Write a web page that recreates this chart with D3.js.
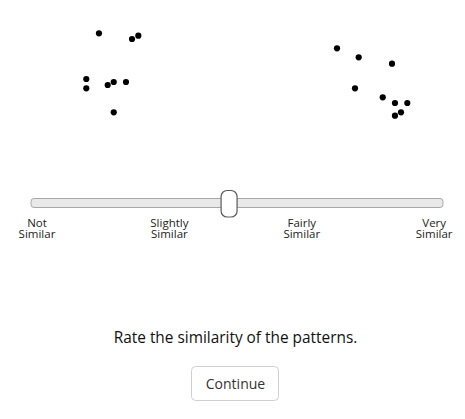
<!DOCTYPE html>
<html>
<head>
<meta charset="utf-8">
<script src="https://cdn.jsdelivr.net/npm/d3@7"></script>
<style>
  html, body { margin: 0; padding: 0; background: #fff; }
  svg { display: block; font-family: "Open Sans", sans-serif; }
</style>
</head>
<body>
<svg id="chart" width="465" height="419"></svg>
<script>
// Pattern A (left) and pattern B (right), in 0-100 panel units
const leftX  = [32.2, 68.9, 75.9, 18.1, 18.1, 41.9, 48.6, 62.2, 48.6];
const leftY  = [13.3, 19.0, 15.7, 59.0, 68.3, 65.0, 62.0, 62.0, 92.3];
const rightX = [18.9, 43.0, 80.0, 38.9, 69.7, 83.3, 97.0, 90.0, 83.3];
const rightY = [18.3, 27.3, 33.7, 58.3, 67.3, 73.0, 73.0, 82.3, 85.7];

const scaleLabels1 = ["Not", "Slightly", "Fairly", "Very"];
const scaleLabels2 = ["Similar", "Similar", "Similar", "Similar"];
const sliderValue = 48;
const prompt = "Rate the similarity of the patterns.";
const buttonText = "Continue";

const svg = d3.select("#chart");

function drawPanel(xs, ys, xRange, yRange) {
  const x = d3.scaleLinear().domain([0, 100]).range(xRange);
  const y = d3.scaleLinear().domain([0, 100]).range(yRange);
  svg.append("g").selectAll("circle")
    .data(xs.map((v, i) => [v, ys[i]]))
    .join("circle")
    .attr("cx", d => x(d[0]))
    .attr("cy", d => y(d[1]))
    .attr("r", 3.1)
    .attr("fill", "#000");
}
drawPanel(leftX, leftY, [70, 160], [20, 120]);
drawPanel(rightX, rightY, [320, 410], [30, 130]);

// Slider
const trackX0 = 31, trackX1 = 443;
const thumbW = 16;
svg.append("rect")
  .attr("x", trackX0).attr("y", 198.5)
  .attr("width", trackX1 - trackX0).attr("height", 9)
  .attr("rx", 3)
  .attr("fill", "#e9e9e9").attr("stroke", "#a8a8a8").attr("stroke-width", 1);

const vScale = d3.scaleLinear().domain([0, 100]).range([trackX0 + thumbW / 2, trackX1 - thumbW / 2]);
svg.append("rect")
  .attr("x", vScale(sliderValue) - thumbW / 2).attr("y", 190.5)
  .attr("width", thumbW).attr("height", 26.5)
  .attr("rx", 6)
  .attr("fill", "#fff").attr("stroke", "#5a5a5a").attr("stroke-width", 1.2);

const lScale = d3.scalePoint().domain(d3.range(scaleLabels1.length)).range([37, 434.2]);
const lg = svg.append("g").attr("font-size", 11.5).attr("fill", "#222").attr("text-anchor", "middle");
lg.selectAll("text.l1").data(scaleLabels1).join("text").attr("class", "l1")
  .attr("x", (d, i) => lScale(i)).attr("y", 226.5).text(d => d);
lg.selectAll("text.l2").data(scaleLabels2).join("text").attr("class", "l2")
  .attr("x", (d, i) => lScale(i)).attr("y", 237.8).text(d => d);

// Prompt
svg.append("text")
  .attr("x", 235.5).attr("y", 343)
  .attr("text-anchor", "middle").attr("font-size", 15.4).attr("fill", "#111")
  .text(prompt);

// Button
svg.append("rect")
  .attr("x", 191.5).attr("y", 366.5).attr("width", 87).attr("height", 34)
  .attr("rx", 4).attr("fill", "#fff").attr("stroke", "#cfcfcf");
svg.append("text")
  .attr("x", 235.5).attr("y", 388.5)
  .attr("text-anchor", "middle").attr("font-size", 14).attr("fill", "#333")
  .text(buttonText);
</script>
</body>
</html>
